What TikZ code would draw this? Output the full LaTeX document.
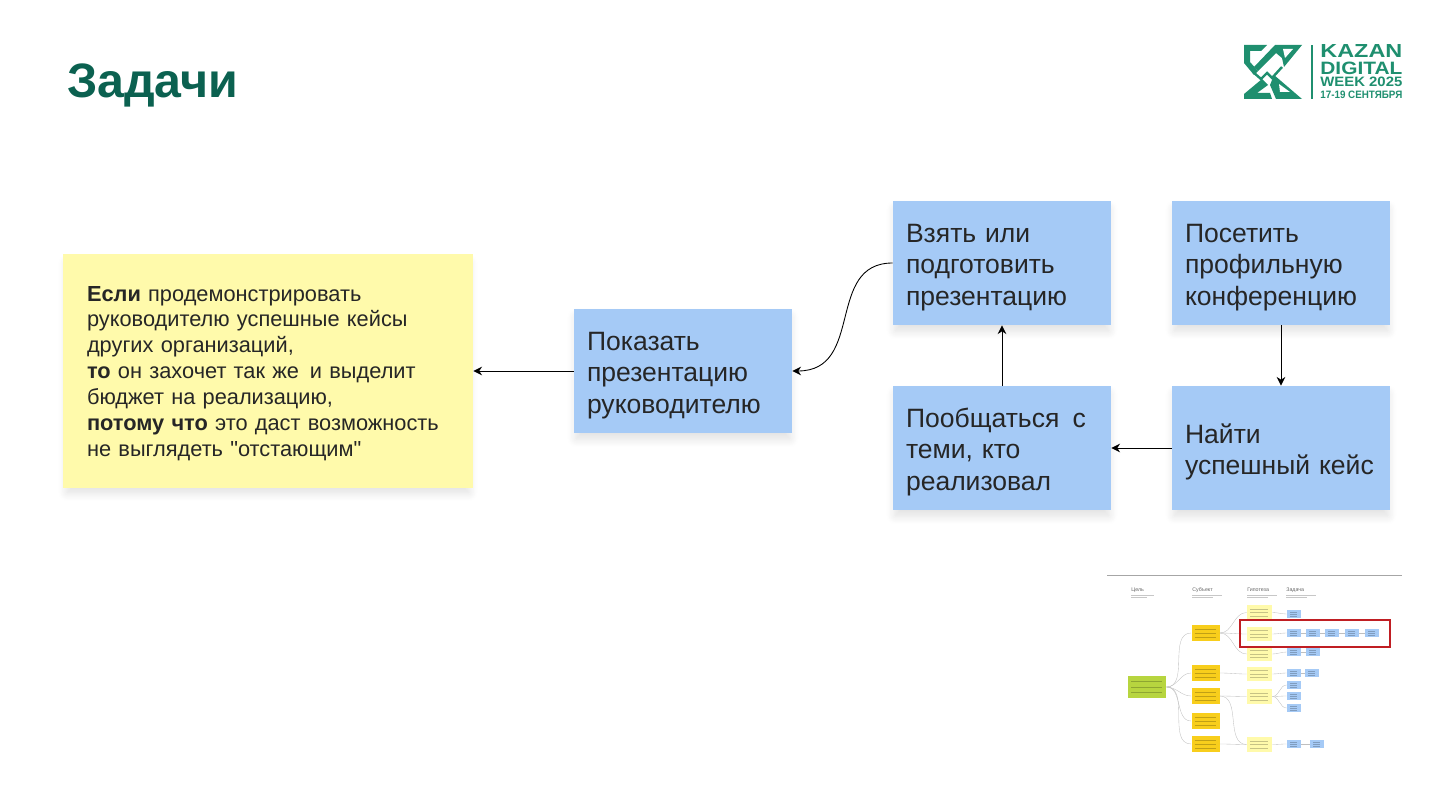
\documentclass[tikz,border=0pt]{standalone}
\usepackage{fontspec}
\usepackage{graphicx}
\setmainfont{Liberation Sans}[Ligatures=TeXOff]
\usetikzlibrary{shadows,shadows.blur,arrows.meta,calc}

\definecolor{titlegreen}{HTML}{0B6150}
\definecolor{logogreen}{HTML}{1F8F6F}
\definecolor{boxblue}{HTML}{A5CAF6}
\definecolor{noteyellow}{HTML}{FFFAAB}
\definecolor{thumborange}{HTML}{F8CE1C}
\definecolor{thumbgreen}{HTML}{B7D53F}
\definecolor{thumbred}{HTML}{C01E23}

\tikzset{
  softshadow/.style={blur shadow={shadow xshift=0cm,shadow yshift=-0.14cm,
    shadow blur radius=0.18cm,shadow scale=0.98,shadow opacity=13,shadow blur steps=12}},
  taskbox/.style={fill=boxblue,draw=none,softshadow,inner sep=0pt,
    minimum width=4.36cm,minimum height=2.48cm,text width=3.84cm,align=left,
    text=black!85,font=\fontsize{15.1}{17.9}\selectfont,
    execute at begin node={\rule{0pt}{0.54cm}}},
  hypbox/.style={fill=noteyellow,draw=none,softshadow,inner sep=0pt,
    minimum width=8.2cm,minimum height=4.68cm,text width=7.24cm,align=left,
    text=black!85,font=\fontsize{12.4}{14.75}\selectfont,
    execute at begin node={\rule{0pt}{0.4cm}}},
  link/.style={draw=black,line width=0.5pt,-{Stealth[length=5pt,width=5pt]}},
  thumbline/.style={draw=black!25,line width=0.2pt},
  thumbtext/.style={inner sep=0pt,anchor=west,text=black!60,font=\fontsize{3}{3}\selectfont},
  thumbnote/.style={draw=black!22,line width=0.3pt},
  scribble/.style={path picture={
    \foreach \k in {0.25,0.5,0.75}
      \draw[black,opacity=0.22,line width=0.25pt]
        ($(path picture bounding box.south west)!\k!(path picture bounding box.north west)+(3,0)$)
        -- ($(path picture bounding box.south east)!\k!(path picture bounding box.north east)+(-4,0)$);}},
  tgoal/.style={fill=thumbgreen,draw=none,inner sep=0pt,minimum width=0.76cm,minimum height=0.44cm,scribble},
  tsubj/.style={fill=thumborange,draw=none,inner sep=0pt,minimum width=0.56cm,minimum height=0.32cm,scribble},
  thyp/.style={fill=noteyellow,draw=none,inner sep=0pt,minimum width=0.5cm,minimum height=0.29cm,scribble},
  ttask/.style={fill=boxblue,draw=none,inner sep=0pt,minimum width=0.28cm,minimum height=0.16cm,scribble},
}

\begin{document}
\begin{tikzpicture}[x=0.02cm,y=-0.02cm]
\useasboundingbox (0,0) rectangle (1440,810);

\node[anchor=west,text=titlegreen,font=\fontsize{27.5}{30}\selectfont\bfseries] (title) at (61,85) {Задачи};

% logo
\fill[logogreen] (1244,45) -- (1267,45) -- (1261,51) -- (1250,51) -- (1250,62) -- (1258,71) -- (1254,75) -- (1244,63) -- cycle;
\fill[logogreen] (1275,45) -- (1302,45) -- (1284,67) -- (1282,58) -- (1276,53) -- (1258,71) -- (1254,67) -- cycle;
\fill[white] (1283,49) -- (1293,49) -- (1285,58) -- cycle;
\draw[logogreen,line width=1.4pt] (1253,72) -- (1261,79) -- (1267,73) -- (1272,78) -- (1282,67);
\fill[logogreen] (1244,99) -- (1244,94) -- (1262,79) -- (1268,85) -- (1257,93) -- (1270,93) -- (1272,99) -- cycle;
\fill[logogreen] (1274,75) -- (1302,99) -- (1276,99) -- (1270,85) -- cycle;
\fill[white] (1280,92) -- (1290,92) -- (1279,84) -- cycle;
\fill[logogreen] (1311,45) rectangle (1313,99);
\node[anchor=west,inner sep=0pt,text=logogreen] (kazan) at (1320,51.5) {\resizebox{1.64cm}{0.26cm}{\bfseries KAZAN}};
\node[anchor=west,inner sep=0pt,text=logogreen] (digital) at (1320,68) {\resizebox{1.64cm}{0.25cm}{\bfseries DIGITAL}};
\node[anchor=west,inner sep=0pt,text=logogreen] (week) at (1320,82) {\resizebox{1.64cm}{0.19cm}{\bfseries WEEK 2025}};
\node[anchor=west,inner sep=0pt,text=logogreen] (dates) at (1320,95) {\resizebox{1.64cm}{0.15cm}{\bfseries 17-19 СЕНТЯБРЯ}};

% main boxes
\node[hypbox] (hyp) at (268,371) {\textbf{Если} продемонстрировать\\руководителю успешные кейсы\\других организаций,\\\textbf{то} он захочет так же\, и выделит\\бюджет на реализацию,\\\textbf{потому что} это даст возможность\\не выглядеть "отстающим"};
\node[taskbox] (show) at (683,371) {Показать\\презентацию\\руководителю};
\node[taskbox] (take) at (1002,263) {Взять или\\подготовить\\презентацию};
\node[taskbox] (visit) at (1281,263) {Посетить\\профильную\\конференцию};
\node[taskbox] (talk) at (1002,448) {Пообщаться\, с\\теми, кто\\реализовал};
\node[taskbox] (find) at (1281,448) {Найти\\успешный кейс};

\draw[link] (show.west) -- (hyp.east);
\draw[link] (take.west) .. controls (825,263) and (865,371) .. (show.east);
\draw[link] (talk.north) -- (take.south);
\draw[link] (visit.south) -- (find.north);
\draw[link] (find.west) -- (talk.east);

% thumbnail of the whole tree
\coordinate (rulea) at (1107,575);
\coordinate (ruleb) at (1402,575);
\draw[black!35,line width=0.5pt] (rulea) -- (ruleb);

\node[thumbtext] (hgoal) at (1131,590) {Цель};
\node[thumbtext] (hsubj) at (1192,590) {Субъект};
\node[thumbtext] (hhyp) at (1247,590) {Гипотеза};
\node[thumbtext] (htask) at (1286,590) {Задача};
\foreach \i/\w in {hgoal/23,hsubj/30,hhyp/30,htask/30} {
  \draw[thumbnote] ($(\i.west)+(0,5)$) -- ++(\w,0);
  \draw[thumbnote] ($(\i.west)+(0,7)$) -- ++(\w*0.7,0);
}

\node[tgoal] (g) at (1147,687) {};
\foreach \name/\y in {s1/633,s2/673,s3/696,s4/721,s5/744}
  \node[tsubj] (\name) at (1205.5,\y) {};
\foreach \name/\y in {h1/612.5,h2/634,h3/654,h4/674,h5/696.5,h6/744.5}
  \node[thyp] (\name) at (1259.5,\y) {};
\foreach \name/\x/\y in {a1/1294/614,
  b1/1294/633,b2/1313/633,b3/1332/633,b4/1352/633,b5/1372/633,
  c1/1294/652,c2/1313/652,
  d1/1294/673,d2/1312/673,
  e1/1294/685,e2/1294/696,e3/1294/708,
  f1/1294/744,f2/1317/744}
  \node[ttask] (\name) at (\x,\y) {};

\foreach \i in {s1,s2,s3,s4,s5}
  \draw[thumbline] (g.east) to[out=0,in=180] (\i.west);
\foreach \i/\j in {s1/h1,s1/h2,s1/h3,s2/h4,s3/h5,s3/h6,s5/h6}
  \draw[thumbline] (\i.east) to[out=0,in=180] (\j.west);
\foreach \i/\j in {h1/a1,h2/b1,b1/b2,b2/b3,b3/b4,b4/b5,h3/c1,c1/c2,h4/d1,d1/d2,h5/e1,h5/e2,h5/e3,h6/f1,f1/f2}
  \draw[thumbline] (\i.east) to[out=0,in=180] (\j.west);

\draw[thumbred,line width=0.7pt] (1240,620) rectangle (1390,647);
\end{tikzpicture}
\end{document}
